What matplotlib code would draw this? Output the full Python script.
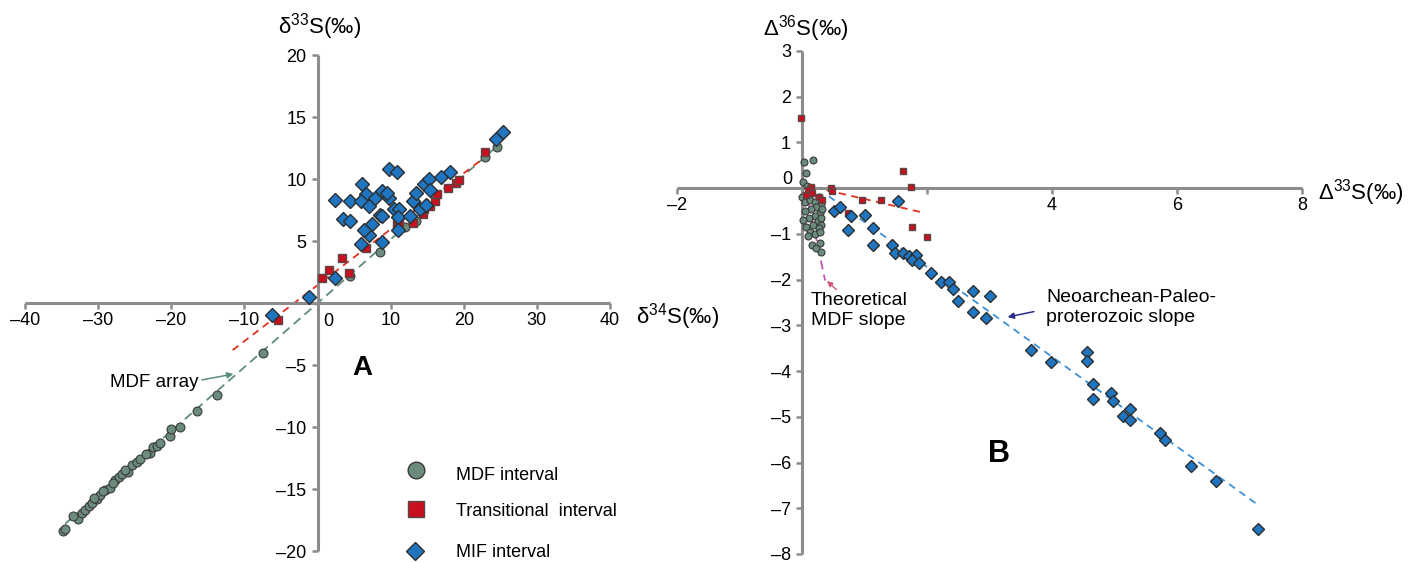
import matplotlib
matplotlib.use("Agg")
import matplotlib.pyplot as plt
from matplotlib.lines import Line2D

plt.rcParams['font.family'] = ['Liberation Sans', 'DejaVu Sans']
plt.rcParams['mathtext.fontset'] = 'custom'
plt.rcParams['mathtext.rm'] = 'Liberation Sans'
plt.rcParams['mathtext.it'] = 'Liberation Sans:italic'
plt.rcParams['mathtext.default'] = 'regular'
plt.rcParams['axes.unicode_minus'] = False

# ---------------- Panel A data (d34S, d33S) ----------------
A_mdf_x = [-34.8, -34.5, -32.8, -32.2, -31.8, -31.3, -30.9, -30.2, -29.7, -29.1, -28.4, -27.7,
           -27.2, -26.8, -25.9, -25.4, -24.7, -24.3, -22.9, -22.5, -22.0, -20.2, -20.0, -18.8,
           -16.5, -13.8, -7.5, 4.4, 8.5, 12.0, 13.5, 22.9, 24.6,
           -33.5, -30.5, -29.4, -28.0, -26.3, -23.5, -21.6]
A_mdf_y = [-18.4, -18.2, -17.4, -16.9, -16.7, -16.4, -16.1, -15.8, -15.5, -15.1, -14.9, -14.3,
           -14.0, -13.8, -13.6, -13.1, -12.85, -12.6, -12.1, -11.6, -11.5, -10.7, -10.2, -10.0,
           -8.7, -7.4, -4.0, 2.15, 4.15, 6.1, 6.65, 11.75, 12.55,
           -17.2, -15.7, -15.2, -14.5, -13.5, -12.2, -11.3]

A_tr_x = [-5.4, 0.6, 1.6, 3.3, 4.3, 6.6, 10.9, 11.2, 13.0, 14.4, 14.5, 15.4, 16.0, 16.4, 17.9,
          18.9, 19.3, 22.9]
A_tr_y = [-1.35, 2.0, 2.65, 3.6, 2.45, 4.4, 6.35, 6.5, 6.45, 7.2, 7.6, 7.85, 8.25, 8.8, 9.25,
          9.7, 9.95, 12.2]

A_mif_x = [-6.2, -1.1, 2.45, 2.4, 4.5, 3.45, 4.5, 6.1, 6.6, 5.9, 7.1, 7.8, 8.8, 9.8, 9.5,
           7.5, 7.1, 6.4, 6.0, 8.8, 8.5, 8.8, 9.8, 10.9, 10.4, 11.1, 11.0, 11.0, 12.6, 13.0,
           13.5, 14.0, 14.6, 15.3, 15.4, 14.8, 16.9, 18.1, 24.4, 25.4]
A_mif_y = [-0.95, 0.5, 2.0, 8.3, 8.25, 6.8, 6.65, 9.6, 8.8, 8.2, 7.85, 8.5, 9.05, 8.5, 8.9,
           6.4, 5.45, 5.85, 4.75, 4.9, 7.1, 7.05, 10.8, 10.6, 7.6, 7.6, 6.9, 5.85, 7.05, 8.25,
           8.9, 7.6, 9.6, 10.0, 9.1, 7.9, 10.2, 10.6, 13.2, 13.8]

A_mdf_line_x = [-34.5, 24.2]
A_mdf_line_y = [-17.8, 12.45]
A_tr_line_x = [-11.6, 22.3]
A_tr_line_y = [-3.8, 11.5]

A_xticks = [-40, -30, -20, -10, 0, 10, 20, 30, 40]
A_xticklabels = ['–40', '–30', '–20', '–10', '', '10', '20', '30', '40']
A_yticks = [-20, -15, -10, -5, 0, 5, 10, 15, 20]
A_yticklabels = ['–20', '–15', '–10', '–5', '', '5', '10', '15', '20']

# ---------------- Panel B data (D33S, D36S) ----------------
B_mdf_x = [0.03, 0.17, 0.06, 0.02, 0.08, 0.13, 0.0, 0.05, 0.12, 0.2, 0.27, 0.3, 0.22, 0.14,
           0.05, 0.28, 0.32, 0.2, 0.11, 0.02, 0.26, 0.31, 0.3, 0.18, 0.07, 0.27, 0.13, 0.21,
           0.09, 0.29, 0.16, 0.22, 0.29, 0.3]
B_mdf_y = [0.57, 0.62, 0.33, 0.14, 0.05, 0.0, -0.2, -0.3, -0.25, -0.3, -0.2, -0.35, -0.42,
           -0.45, -0.5, -0.55, -0.45, -0.6, -0.65, -0.7, -0.72, -0.65, -0.8, -0.8, -0.85,
           -0.88, -0.95, -1.0, -1.05, -0.95, -1.25, -1.3, -1.2, -1.4]

B_tr_x = [-0.01, 1.62, 1.75, 0.47, 0.48, 0.14, 0.09, 0.16, 0.27, 0.32, 0.06, 0.96, 1.26,
          0.73, 1.76, 2.0]
B_tr_y = [1.54, 0.37, 0.02, 0.0, -0.07, 0.03, -0.05, -0.1, -0.19, -0.26, -0.15, -0.26,
          -0.25, -0.55, -0.85, -1.06]

B_mif_x = [1.53, 0.51, 0.6, 0.79, 1.0, 0.74, 1.14, 1.14, 1.44, 1.49, 1.62, 1.71, 1.83, 1.76,
           1.87, 2.07, 2.22, 2.35, 2.41, 2.5, 2.74, 3.0, 2.74, 2.94, 3.66, 3.98, 4.56, 4.56,
           4.65, 4.65, 4.95, 4.97, 5.14, 5.25, 5.25, 5.72, 5.81, 6.22, 6.62, 7.29]
B_mif_y = [-0.28, -0.49, -0.42, -0.61, -0.59, -0.91, -0.88, -1.24, -1.24, -1.41, -1.41, -1.48,
           -1.46, -1.57, -1.64, -1.86, -2.06, -2.05, -2.2, -2.47, -2.24, -2.35, -2.71, -2.85,
           -3.54, -3.81, -3.59, -3.79, -4.28, -4.62, -4.48, -4.66, -4.98, -4.83, -5.08, -5.35,
           -5.5, -6.08, -6.41, -7.45]

B_tr_line_x = [0.0, 1.95]
B_tr_line_y = [0.08, -0.54]
B_mif_line_x = [0.43, 7.31]
B_mif_line_y = [-0.18, -6.94]
B_mdf_line_x = [0.06, 0.37]
B_mdf_line_y = [-0.04, -2.02]

B_xticks = [-2, 0, 2, 4, 6, 8]
B_xticklabels = ['–2', '', '', '4', '6', '8']
B_yticks = [3, 2, 1, 0, -1, -2, -3, -4, -5, -6, -7, -8]
B_yticklabels = ['3', '2', '1', '', '–1', '–2', '–3', '–4', '–5', '–6', '–7', '–8']

legend_labels = ['MDF interval', 'Transitional  interval', 'MIF interval']

# ---------------- styles ----------------
W, H = 1410, 563
C_MDF = '#6b8c7d'
C_TR = '#c8101e'
C_MIF = '#1f75c0'
E_MDF = '#3a3a3a'
E_TR = '#5a4646'
E_MIF = '#2e2e2e'
AX_C = '#8c8c8c'

fig = plt.figure(figsize=(W / 100, H / 100), dpi=100)


def fx(px):
    return px / W


def fy(py):
    return 1 - py / H


def style_axes(ax):
    for s in ['top', 'right']:
        ax.spines[s].set_visible(False)
    for s in ['left', 'bottom']:
        ax.spines[s].set_position(('data', 0))
        ax.spines[s].set_color(AX_C)
        ax.spines[s].set_linewidth(2.2)
        ax.spines[s].set_capstyle('butt')
    ax.tick_params(axis='both', which='major', direction='out', length=4.5, width=1.8,
                   color=AX_C, labelsize=13, labelcolor='black')
    ax.tick_params(axis='x', pad=2)
    ax.tick_params(axis='y', pad=3.5)
    ax.patch.set_alpha(0)


# ---------------- Panel A ----------------
axA = fig.add_axes([fx(25), fy(551), fx(610) - fx(25), fy(55) - fy(551)])
axA.set_xlim(-40, 40)
axA.set_ylim(-20, 20)
style_axes(axA)
axA.set_xticks(A_xticks)
axA.set_xticklabels(A_xticklabels)
axA.set_yticks(A_yticks)
axA.set_yticklabels(A_yticklabels)

axA.plot(A_mdf_line_x, A_mdf_line_y, color='#5e8c7c', lw=1.3, dashes=(5, 3), zorder=2)
axA.plot(A_tr_line_x, A_tr_line_y, color='#e0301e', lw=1.3, dashes=(4, 3), zorder=2)
axA.plot(A_mdf_x, A_mdf_y, 'o', ms=6.4, mfc=C_MDF, mec=E_MDF, mew=0.8, clip_on=False, zorder=3)
axA.plot(A_tr_x, A_tr_y, 's', ms=5.4, mfc=C_TR, mec=E_TR, mew=1.0, clip_on=False, zorder=4)
axA.plot(A_mif_x, A_mif_y, 'D', ms=6.7, mfc=C_MIF, mec=E_MIF, mew=1.0, clip_on=False, zorder=5)

axA.annotate('', xy=(-11.5, -5.73), xytext=(-15.8, -6.2),
             arrowprops=dict(arrowstyle='-|>', color='#5e8c7c', lw=1.1, mutation_scale=9,
                             shrinkA=0, shrinkB=0))

# ---------------- Panel B ----------------
axB = fig.add_axes([fx(677), fy(554), fx(1302) - fx(677), fy(50.9) - fy(554)])
axB.set_xlim(-2, 8)
axB.set_ylim(-8, 3)
style_axes(axB)
axB.set_xticks(B_xticks)
axB.set_xticklabels(B_xticklabels)
axB.set_yticks(B_yticks)
axB.set_yticklabels(B_yticklabels)

axB.plot(B_tr_line_x, B_tr_line_y, color='#e0301e', lw=1.3, dashes=(4, 3), zorder=2)
axB.plot(B_mif_line_x, B_mif_line_y, color='#3d8fd8', lw=1.3, dashes=(4, 3), zorder=2)
axB.plot(B_mdf_line_x, B_mdf_line_y, color='#c055b5', lw=1.3, dashes=(5, 3), zorder=2)
axB.plot(B_mdf_x, B_mdf_y, 'o', ms=5.0, mfc=C_MDF, mec=E_MDF, mew=0.8, clip_on=False, zorder=3)
axB.plot(B_tr_x, B_tr_y, 's', ms=4.9, mfc=C_TR, mec=E_TR, mew=1.0, clip_on=False, zorder=4)
axB.plot(B_mif_x, B_mif_y, 'D', ms=6.1, mfc=C_MIF, mec=E_MIF, mew=1.0, clip_on=False, zorder=5)

axB.annotate('', xy=(0.4, -2.03), xytext=(0.55, -2.22),
             arrowprops=dict(arrowstyle='-|>', color='#d0587a', lw=1.0, mutation_scale=8,
                             shrinkA=0, shrinkB=0))
axB.annotate('', xy=(3.29, -2.82), xytext=(3.71, -2.70),
             arrowprops=dict(arrowstyle='-|>', color='#2a2a8a', lw=1.1, mutation_scale=9,
                             shrinkA=0, shrinkB=0))

# ---------------- texts ----------------
fig.text(fx(278), fy(33), r'δ$^{33}$S(‰)', fontsize=16, ha='left', va='baseline')
fig.text(fx(636), fy(323), r'δ$^{34}$S(‰)', fontsize=16, ha='left', va='baseline')
fig.text(fx(763), fy(35), r'Δ$^{36}$S(‰)', fontsize=16, ha='left', va='baseline')
fig.text(fx(1318), fy(199), r'Δ$^{33}$S(‰)', fontsize=16, ha='left', va='baseline')

fig.text(fx(328), fy(322), '0', fontsize=13, ha='center', va='center')
fig.text(fx(787), fy(179), '0', fontsize=13, ha='center', va='center')

fig.text(fx(110), fy(387), 'MDF array', fontsize=13.5, ha='left', va='baseline')
fig.text(fx(811), fy(305), 'Theoretical', fontsize=14, ha='left', va='baseline')
fig.text(fx(811), fy(325), 'MDF slope', fontsize=14, ha='left', va='baseline')
fig.text(fx(1046), fy(302), 'Neoarchean-Paleo-', fontsize=14, ha='left', va='baseline')
fig.text(fx(1046), fy(322), 'proterozoic slope', fontsize=14, ha='left', va='baseline')

fig.text(fx(362), fy(368), 'A', fontsize=20, fontweight='bold', ha='center', va='center')
fig.text(fx(999), fy(454), 'B', fontsize=22, fontweight='bold', ha='center', va='center')

# ---------------- legend ----------------
leg_marks = [('o', 12, C_MDF, E_MDF, 416, 470),
             ('s', 11.5, C_TR, E_TR, 416, 509),
             ('D', 8.7, C_MIF, E_MIF, 415, 551)]
leg_base = [480, 516, 557]
for (m, ms, fc, ec, mx, my), lab, by in zip(leg_marks, legend_labels, leg_base):
    fig.add_artist(Line2D([fx(mx)], [fy(my)], marker=m, ms=ms, mfc=fc, mec=ec, mew=1.0,
                          linestyle='none', transform=fig.transFigure))
    fig.text(fx(456), fy(by), lab, fontsize=13, ha='left', va='baseline')

fig.savefig('out.png', dpi=100)
